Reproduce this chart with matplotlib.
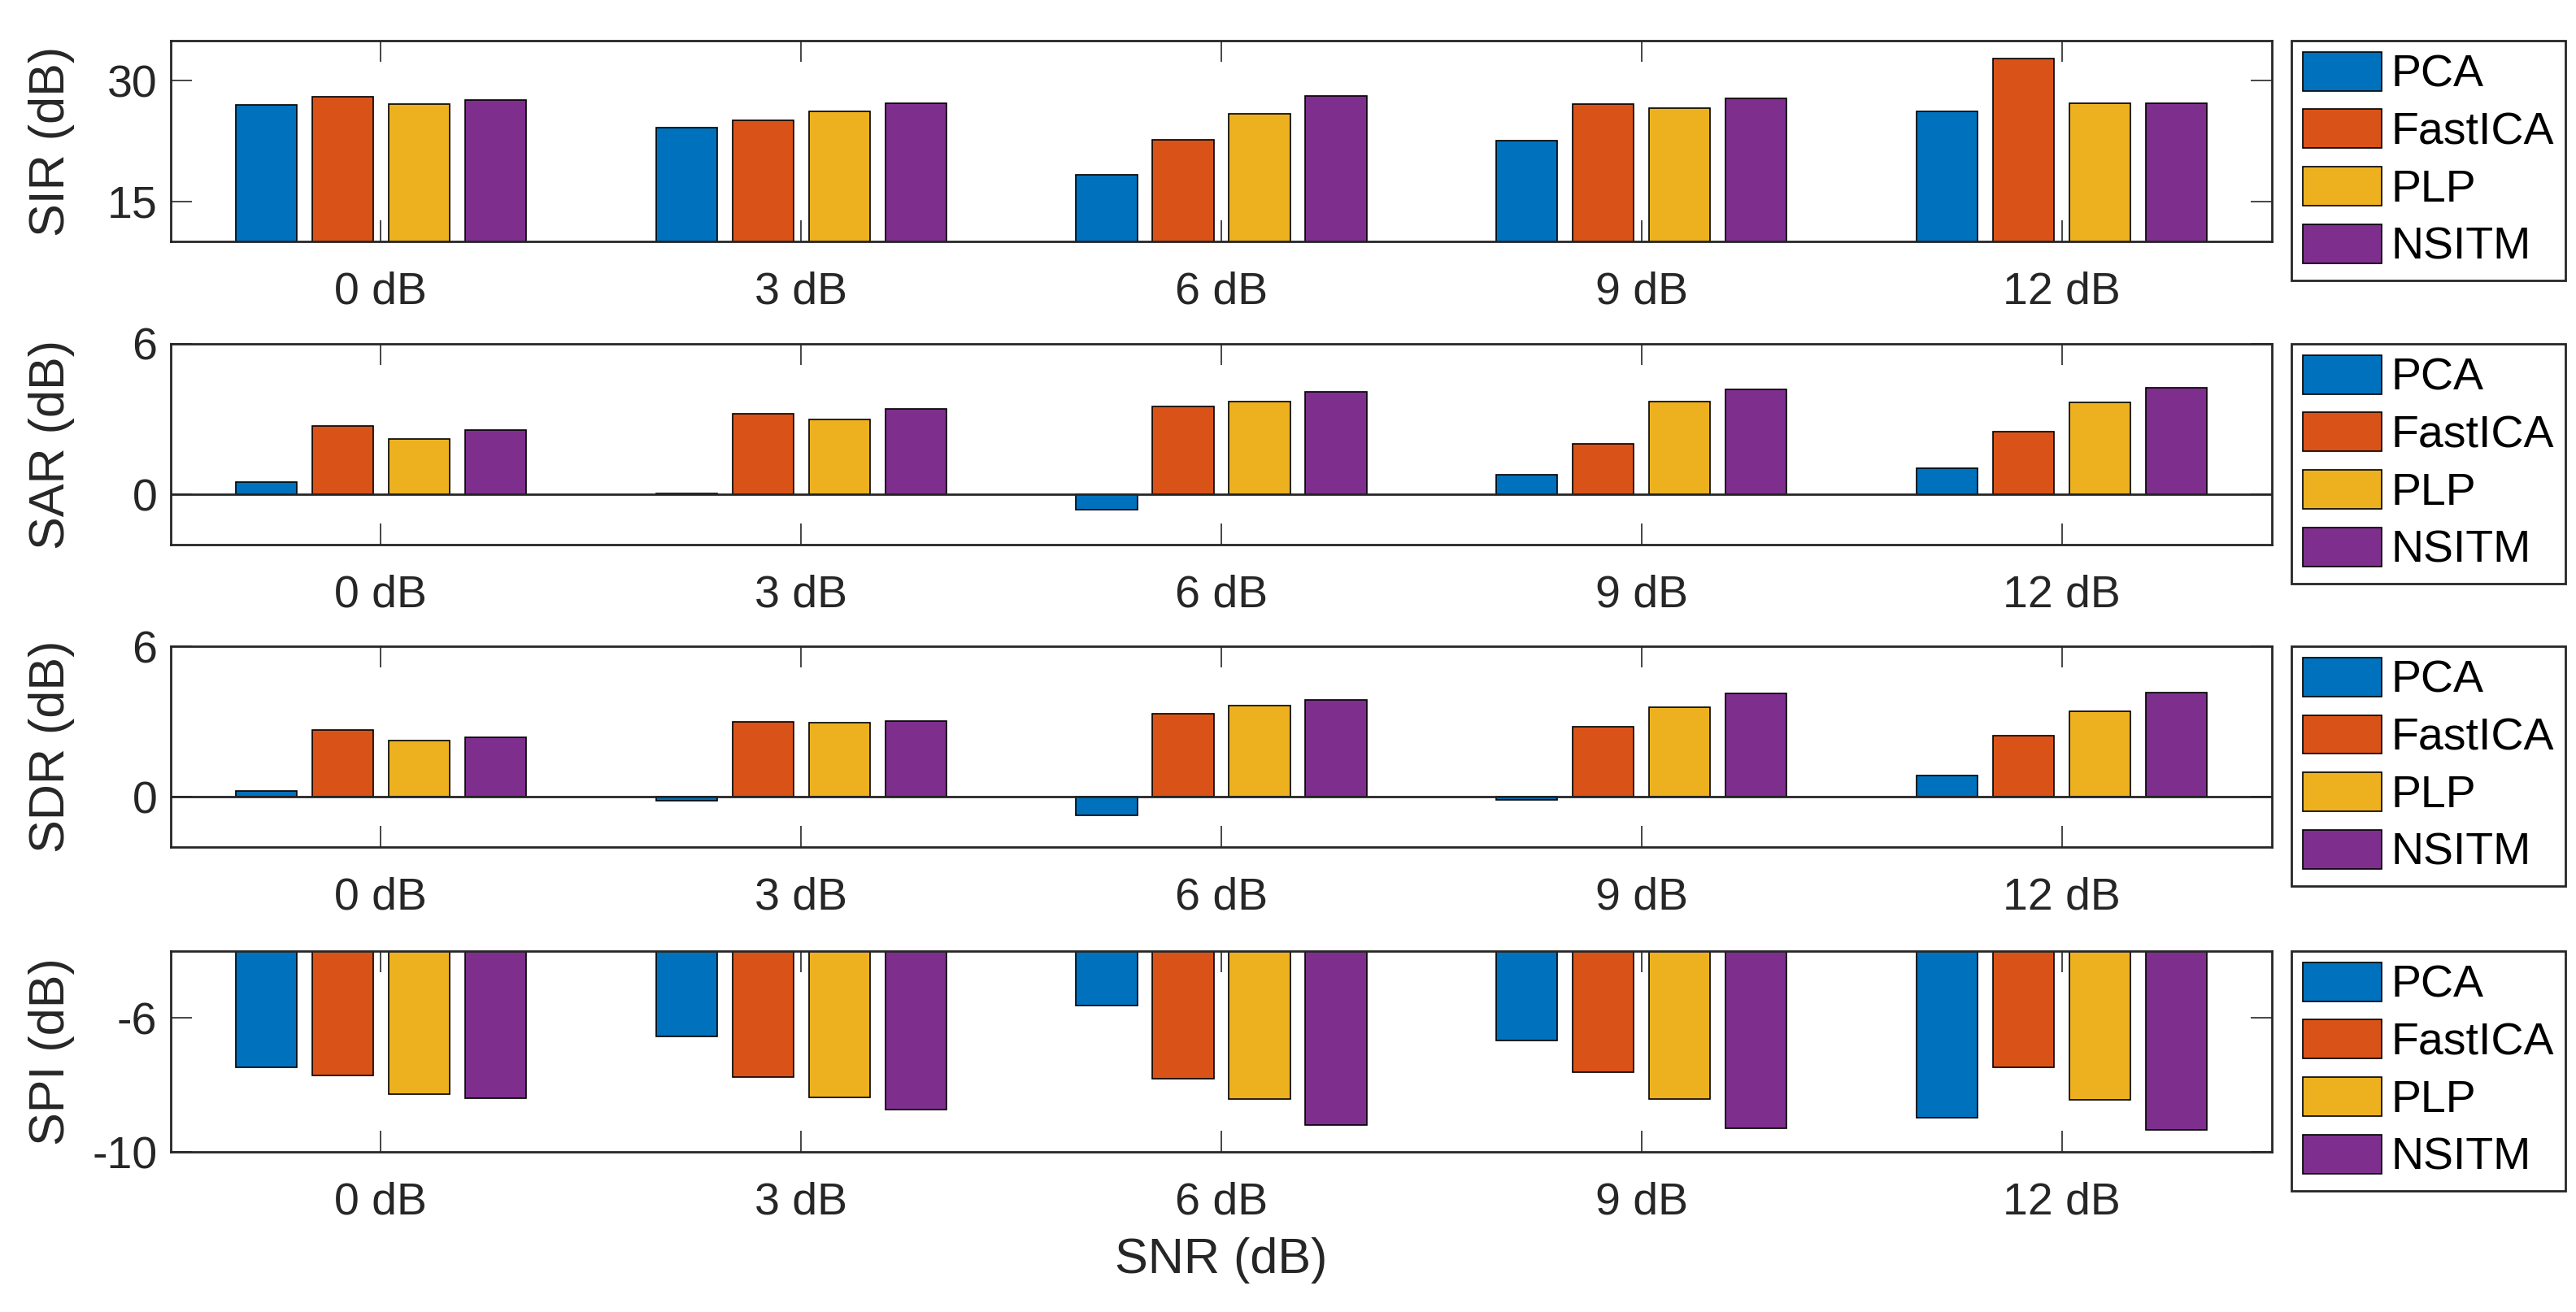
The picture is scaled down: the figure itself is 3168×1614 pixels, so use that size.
import numpy as np
import matplotlib
matplotlib.use("Agg")
import matplotlib.pyplot as plt

plt.rcParams['font.family'] = ['Liberation Sans', 'DejaVu Sans']
plt.rcParams['axes.unicode_minus'] = False

snr_labels = ['0 dB', '3 dB', '6 dB', '9 dB', '12 dB']
methods = ['PCA', 'FastICA', 'PLP', 'NSITM']
colors = ['#0072BD', '#D95319', '#EDB120', '#7E2F8E']

# values per method (rows) and SNR level (columns)
sir = [[27.0, 24.2, 18.3, 22.5, 26.2],
       [28.0, 25.1, 22.7, 27.1, 32.8],
       [27.1, 26.2, 25.9, 26.6, 27.2],
       [27.6, 27.2, 28.1, 27.8, 27.2]]
sar = [[0.49, 0.04, -0.60, 0.77, 1.04],
       [2.74, 3.21, 3.50, 2.03, 2.51],
       [2.22, 2.98, 3.71, 3.71, 3.68],
       [2.57, 3.40, 4.09, 4.18, 4.26]]
sdr = [[0.25, -0.15, -0.75, -0.12, 0.84],
       [2.67, 2.99, 3.32, 2.78, 2.43],
       [2.25, 2.96, 3.65, 3.57, 3.41],
       [2.38, 3.02, 3.85, 4.11, 4.14]]
spi = [[-7.47, -6.56, -5.63, -6.66, -8.98],
       [-7.72, -7.76, -7.81, -7.62, -7.48],
       [-8.27, -8.38, -8.41, -8.43, -8.45],
       [-8.39, -8.73, -9.21, -9.29, -9.35]]

panels = [('SIR (dB)', sir, (10, 35), [15, 30]),
          ('SAR (dB)', sar, (-2, 6), [0, 6]),
          ('SDR (dB)', sdr, (-2, 6), [0, 6]),
          ('SPI (dB)', spi, (-10, -4), [-10, -6])]

W, H = 3168, 1614
fig = plt.figure(figsize=(W / 200, H / 200), dpi=200)

left, right = 210, 2794
tops = [50, 423, 795, 1170]
height = 247

x = np.arange(1, len(snr_labels) + 1)
step = 0.1818
bw = 0.8 * step
axc = '#262626'

for i, (ylab, data, ylim, yt) in enumerate(panels):
    ax = fig.add_axes([left / W, 1 - (tops[i] + height) / H,
                       (right - left) / W, height / H])
    for j, m in enumerate(methods):
        ax.bar(x + (j - 1.5) * step, data[j], width=bw, color=colors[j],
               edgecolor='black', linewidth=0.6, label=m, zorder=2)
    if ylim[0] < 0 < ylim[1]:
        ax.axhline(0, color=axc, linewidth=1.0, zorder=3)
    ax.set_xlim(0.5, 5.5)
    ax.set_ylim(*ylim)
    ax.set_xticks(x)
    ax.set_xticklabels(snr_labels)
    ax.set_yticks(yt)
    ax.tick_params(direction='in', length=9.4, width=0.6, color=axc,
                   labelcolor=axc, labelsize=20, top=True, right=True)
    ax.tick_params(axis='x', pad=13)
    ax.tick_params(axis='y', pad=6)
    for s in ax.spines.values():
        s.set_color(axc)
        s.set_linewidth(1.0)
    ax.set_ylabel(ylab, fontsize=22, color=axc)
    ax.yaxis.set_label_coords(-(left - 92) / (right - left), 0.5)
    leg = ax.legend(loc='upper left', bbox_to_anchor=(1.0093, 1.0),
                    fontsize=20, frameon=True, fancybox=False,
                    handlelength=1.75, handleheight=0.95, labelspacing=0.28,
                    handletextpad=0.2, borderpad=0.25, borderaxespad=0)
    leg.get_frame().set_edgecolor(axc)
    leg.get_frame().set_linewidth(1.0)
    leg.get_frame().set_alpha(1)
    if i == 3:
        ax.set_xlabel('SNR (dB)', fontsize=22, color=axc, labelpad=6)

fig.savefig('out.png', dpi=200)
